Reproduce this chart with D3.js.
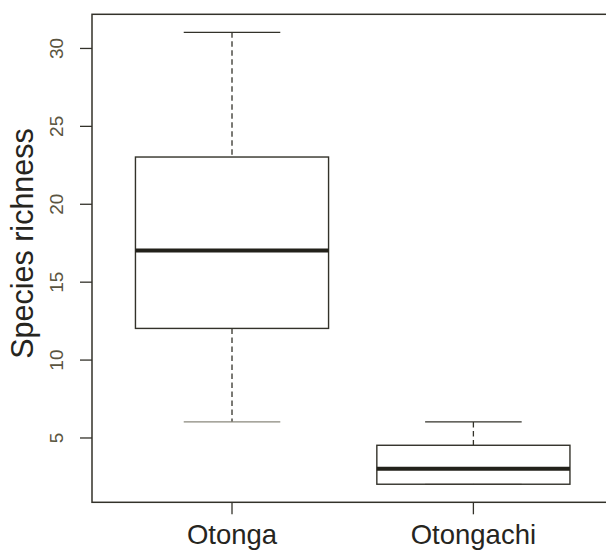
<!DOCTYPE html>
<html>
<head>
<meta charset="utf-8">
<script src="https://cdn.jsdelivr.net/npm/d3@7"></script>
<style>
  body { margin: 0; background: #fff; }
  svg { display: block; font-family: "Liberation Sans", Arial, sans-serif; }
</style>
</head>
<body>
<div id="chart"></div>
<script>
// Box plot data: species richness per site
const sites = ["Otonga", "Otongachi"];
const mins = [6, 2];
const q1s = [12, 2];
const medians = [17, 3];
const q3s = [23, 4.5];
const maxs = [31, 6];
const yTicks = [5, 10, 15, 20, 25, 30];

const width = 606, height = 550;
const margin = { top: 14.3, right: -7.4, bottom: 47.7, left: 92 };
const lineColor = "#33322a";

const svg = d3.select("#chart")
  .append("svg")
  .attr("width", width)
  .attr("height", height);

// scales (R style: 4% padding around the data range)
const lo = d3.min(mins), hi = d3.max(maxs);
const pad = (hi - lo) * 0.04;

const x = d3.scaleBand()
  .domain(sites)
  .range([margin.left, width - margin.right])
  .paddingInner(0.2)
  .paddingOuter(0.18);

const y = d3.scaleLinear()
  .domain([lo - pad, hi + pad])
  .range([height - margin.bottom, margin.top]);

const boxes = sites.map((s, i) => ({
  site: s, min: mins[i], q1: q1s[i], med: medians[i], q3: q3s[i], max: maxs[i]
}));

const g = svg.selectAll("g.box")
  .data(boxes)
  .join("g")
  .attr("class", "box");

const cx = d => x(d.site) + x.bandwidth() / 2;
const capHalf = x.bandwidth() / 4;

// whiskers (dashed)
g.append("line")
  .attr("x1", cx).attr("x2", cx)
  .attr("y1", d => y(d.max)).attr("y2", d => y(d.q3))
  .attr("stroke", lineColor).attr("stroke-width", 1.3)
  .attr("stroke-dasharray", "5.5,3.5");

g.append("line")
  .attr("x1", cx).attr("x2", cx)
  .attr("y1", d => y(d.q1)).attr("y2", d => y(d.min))
  .attr("stroke", lineColor).attr("stroke-width", 1.3)
  .attr("stroke-dasharray", "5.5,3.5");

// caps
g.append("line")
  .attr("x1", d => cx(d) - capHalf).attr("x2", d => cx(d) + capHalf)
  .attr("y1", d => y(d.max)).attr("y2", d => y(d.max))
  .attr("stroke", lineColor).attr("stroke-width", 1.3);

g.append("line")
  .attr("x1", d => cx(d) - capHalf).attr("x2", d => cx(d) + capHalf)
  .attr("y1", d => y(d.min)).attr("y2", d => y(d.min))
  .attr("stroke", "#8a887c").attr("stroke-width", 1.1);

// box
g.append("rect")
  .attr("x", d => x(d.site))
  .attr("width", x.bandwidth())
  .attr("y", d => y(d.q3))
  .attr("height", d => y(d.q1) - y(d.q3))
  .attr("fill", "none")
  .attr("stroke", lineColor).attr("stroke-width", 1.4);

// median
g.append("line")
  .attr("x1", d => x(d.site)).attr("x2", d => x(d.site) + x.bandwidth())
  .attr("y1", d => y(d.med)).attr("y2", d => y(d.med))
  .attr("stroke", "#22211a").attr("stroke-width", 4);

// y axis
const yAxis = svg.append("g")
  .attr("transform", `translate(${margin.left},0)`)
  .call(d3.axisLeft(y).tickValues(yTicks).tickSize(12).tickFormat(d3.format("d")));
yAxis.select(".domain").remove();
yAxis.selectAll(".tick line").attr("stroke", lineColor).attr("stroke-width", 1.3);
yAxis.selectAll(".tick text")
  .attr("x", null).attr("dy", null)
  .attr("transform", "translate(-28.7,0) rotate(-90)")
  .attr("text-anchor", "middle")
  .attr("fill", "#5a5440")
  .style("font-size", "19px");

// x axis
const xAxis = svg.append("g")
  .attr("transform", `translate(0,${height - margin.bottom})`)
  .call(d3.axisBottom(x).tickSize(12));
xAxis.select(".domain").remove();
xAxis.selectAll(".tick line").attr("stroke", lineColor).attr("stroke-width", 1.3);
xAxis.selectAll(".tick text")
  .attr("y", 41.7).attr("dy", null)
  .attr("fill", "#26251e")
  .style("font-size", "27.5px");

// plot frame
svg.append("rect")
  .attr("x", margin.left)
  .attr("y", margin.top)
  .attr("width", width - margin.right - margin.left)
  .attr("height", height - margin.bottom - margin.top)
  .attr("fill", "none")
  .attr("stroke", lineColor)
  .attr("stroke-width", 1.5);

// y label
svg.append("text")
  .attr("transform", "translate(33,243.5) rotate(-90)")
  .attr("text-anchor", "middle")
  .attr("fill", "#26251e")
  .style("font-size", "30.5px")
  .text("Species richness");
</script>
</body>
</html>
